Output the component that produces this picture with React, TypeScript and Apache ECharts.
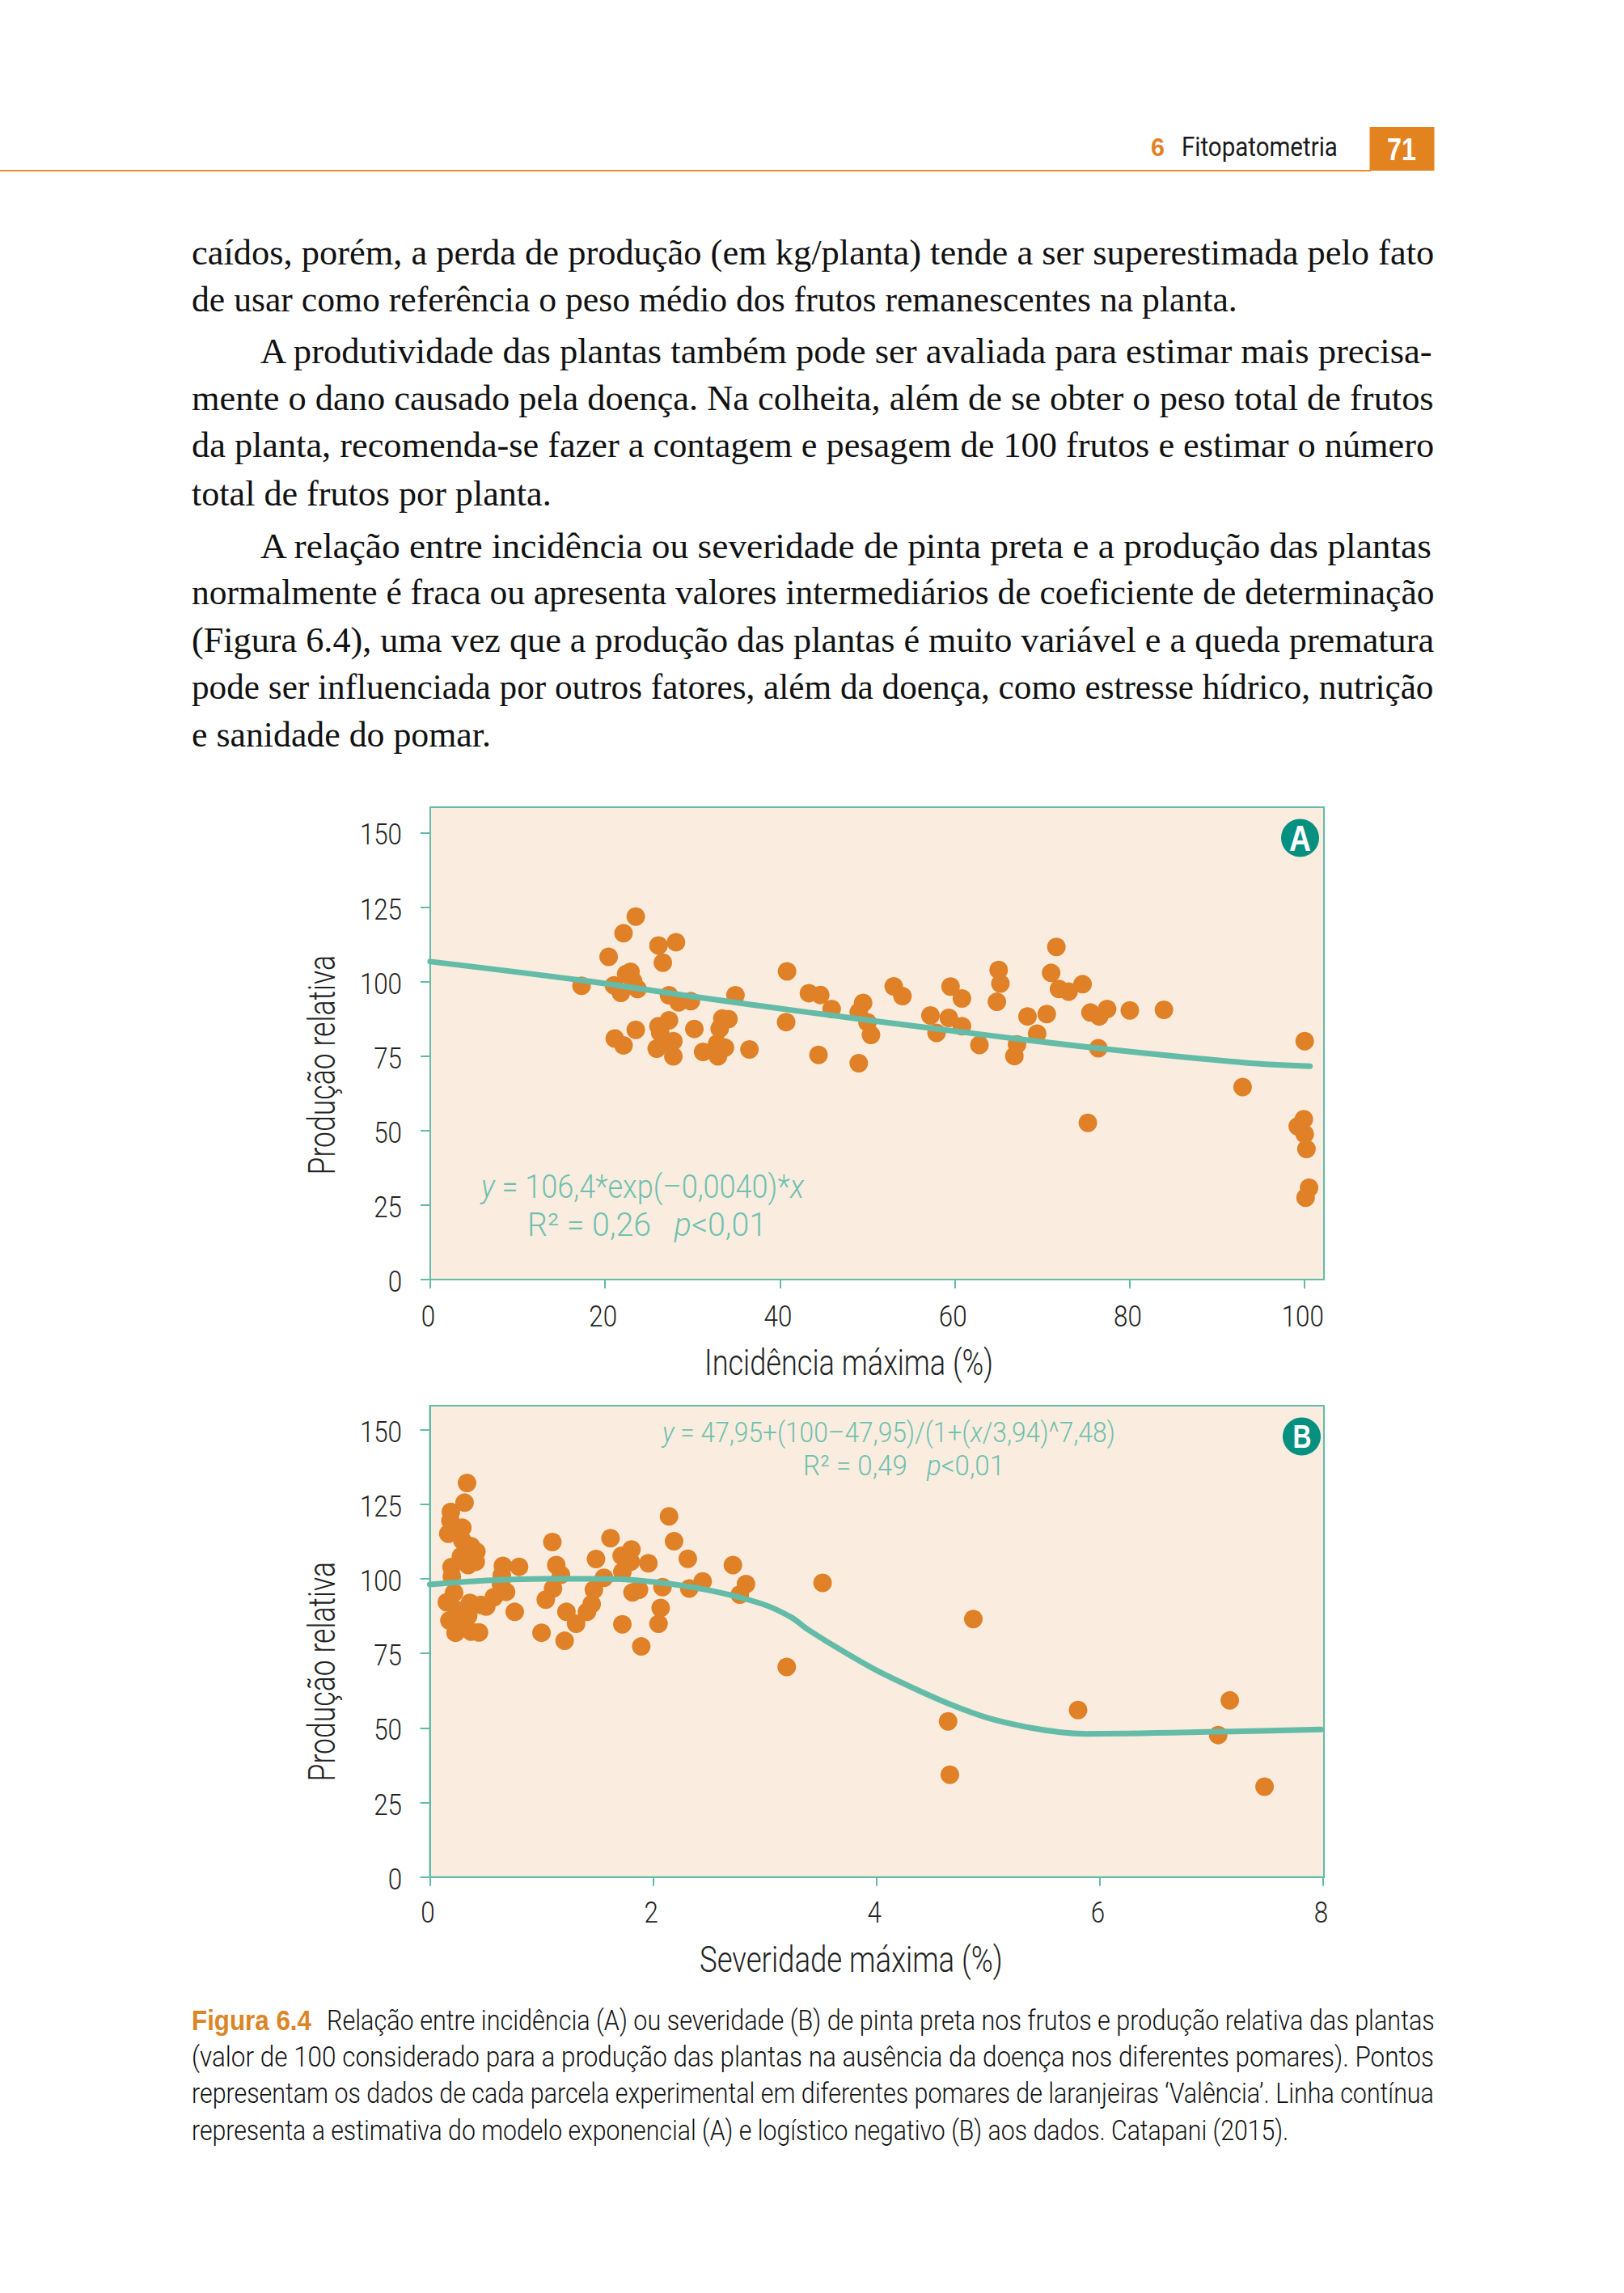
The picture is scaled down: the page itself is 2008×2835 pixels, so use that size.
import React, { useEffect, useRef } from "react";
import * as echarts from "echarts";

const PAGE_W = 2008;
const PAGE_H = 2835;
const SANS = "Roboto, sans-serif";
const SERIF = '"Liberation Serif", serif';
const TEAL = "#63BBA8";
const TEAL_TXT = "#6FC0AF";
const ORANGE = "#E08127";
const INK = "#222222";

const yTicks = [0, 25, 50, 75, 100, 125, 150];
const xTicksA = [0, 20, 40, 60, 80, 100];
const xTicksB = [0, 2, 4, 6, 8];

const pointsA: number[][] = [
  [17.3, 98.6], [20.4, 108.3], [22.1, 116.2], [23.5, 121.8], [21.1, 80.9], [22.1, 78.6], [21.0, 98.7], [21.8, 96.2],
  [22.4, 102.5], [22.9, 103.3], [23.2, 100.1], [23.7, 97.5], [23.5, 83.8], [26.1, 112.1], [28.1, 113.2], [26.6, 106.3],
  [27.3, 95.4], [28.4, 93.0], [29.8, 93.4], [34.9, 95.4], [27.3, 87.0], [26.1, 85.0], [26.3, 82.8], [26.7, 79.7],
  [27.8, 80.0], [25.9, 77.5], [27.8, 74.9], [30.2, 84.1], [31.2, 76.4], [32.8, 79.1], [33.7, 77.8], [32.9, 74.9],
  [33.4, 87.6], [34.1, 87.4], [33.1, 84.2], [36.5, 77.2], [40.8, 103.4], [40.7, 86.4], [43.3, 96.1], [44.6, 95.5],
  [45.9, 90.8], [44.4, 75.4], [49.0, 72.6], [49.0, 89.7], [49.5, 92.8], [50.0, 86.3], [50.4, 82.1], [53.0, 98.4],
  [54.0, 95.1], [57.2, 88.6], [57.9, 82.8], [59.5, 98.3], [59.3, 87.8], [60.8, 94.3], [60.8, 85.0], [62.8, 78.7],
  [65.0, 103.9], [65.2, 99.3], [64.8, 93.2], [67.1, 78.9], [66.8, 75.0], [68.3, 88.3], [69.4, 82.5], [70.5, 89.1],
  [71.0, 102.9], [71.6, 111.6], [71.9, 97.5], [73.0, 96.6], [74.6, 99.1], [75.5, 89.6], [76.5, 88.3], [77.4, 90.8],
  [76.4, 77.6], [75.2, 52.6], [80.0, 90.3], [83.9, 90.5], [92.9, 64.6], [100.0, 80.0], [99.2, 51.4], [99.9, 53.8],
  [100.0, 48.8], [100.2, 43.8], [100.5, 30.8], [100.1, 27.5],
];
const curveA: number[][] = [
  [0, 106.7], [17.3, 100.4], [29.5, 95.2], [43.4, 89.6], [59.9, 83.4], [76.4, 77.6], [93.0, 72.8], [100.6, 71.6],
];

const pointsB: number[][] = [
  [0.333, 132.1], [0.311, 125.5], [0.188, 122.4], [0.184, 119.4], [0.165, 115.1], [0.291, 117.1], [0.214, 116.7], [0.291, 112.8],
  [0.369, 110.9], [0.417, 109.1], [0.411, 105.7], [0.343, 104.6], [0.278, 107.5], [0.327, 108.1], [0.194, 103.9], [0.197, 100.7],
  [0.217, 95.3], [0.152, 92.1], [0.175, 86.0], [0.23, 81.9], [0.246, 89.5], [0.359, 91.9], [0.343, 87.6], [0.278, 87.0],
  [0.262, 84.4], [0.369, 82.3], [0.44, 82.0], [0.456, 91.2], [0.505, 90.7], [0.573, 93.8], [0.654, 104.3], [0.644, 101.1],
  [0.637, 98.2], [0.683, 95.6], [0.799, 104.0], [0.76, 88.9], [1.097, 112.3], [1.132, 104.6], [1.174, 101.3], [1.103, 96.7],
  [1.038, 93.0], [1.0, 81.9], [1.207, 79.2], [1.223, 88.9], [1.31, 84.9], [1.407, 88.9], [1.449, 91.5], [1.469, 96.3],
  [1.488, 106.6], [1.559, 100.3], [1.618, 113.6], [1.718, 107.7], [1.805, 109.8], [1.799, 105.7], [1.724, 102.3], [1.724, 84.7],
  [1.815, 95.4], [1.873, 96.3], [1.893, 77.3], [1.957, 105.2], [2.083, 97.2], [2.067, 90.2], [2.048, 84.9], [2.142, 120.9],
  [2.187, 112.6], [2.31, 106.7], [2.323, 96.7], [2.443, 99.1], [2.714, 104.6], [2.776, 94.7], [2.831, 98.2], [3.196, 70.4],
  [3.517, 98.6], [4.867, 86.5], [4.641, 52.2], [4.657, 34.3], [5.805, 56.0], [7.164, 59.2], [7.06, 47.6], [7.475, 30.3],
];
const curveB: number[][] = [
  [0, 98.1], [0.553, 99.5], [1.04, 100.0], [1.52, 100.0], [2.01, 98.9], [2.49, 96.2], [2.98, 91.5], [3.24, 87.0], [3.385, 83.0],
  [3.709, 75.5], [4.0, 69.3], [4.356, 62.9], [4.68, 57.6], [5.0, 53.3], [5.33, 50.4], [5.65, 48.5], [5.876, 48.0], [7.06, 48.7], [7.98, 49.5],
];

const RIGHT = 1773.5;
const bodyLines = [
  { t: "caídos, porém, a perda de produção (em kg/planta) tende a ser superestimada pelo fato", x: 237, r: RIGHT, b: 327.5 },
  { t: "de usar como referência o peso médio dos frutos remanescentes na planta.", x: 237, r: 1530, b: 385 },
  { t: "A produtividade das plantas também pode ser avaliada para estimar mais precisa-", x: 322, r: RIGHT, b: 450 },
  { t: "mente o dano causado pela doença. Na colheita, além de se obter o peso total de frutos", x: 237, r: RIGHT, b: 508 },
  { t: "da planta, recomenda-se fazer a contagem e pesagem de 100 frutos e estimar o número", x: 237, r: RIGHT, b: 566 },
  { t: "total de frutos por planta.", x: 237, r: 682, b: 625.5 },
  { t: "A relação entre incidência ou severidade de pinta preta e a produção das plantas", x: 322, r: RIGHT, b: 690.5 },
  { t: "normalmente é fraca ou apresenta valores intermediários de coeficiente de determinação", x: 237, r: RIGHT, b: 747.5 },
  { t: "(Figura 6.4), uma vez que a produção das plantas é muito variável e a queda prematura", x: 237, r: RIGHT, b: 807 },
  { t: "pode ser influenciada por outros fatores, além da doença, como estresse hídrico, nutrição", x: 237, r: RIGHT, b: 864.5 },
  { t: "e sanidade do pomar.", x: 237, r: 607, b: 923 },
];
const captionLines = [
  { t: "Relação entre incidência (A) ou severidade (B) de pinta preta nos frutos e produção relativa das plantas", x: 404, r: RIGHT, b: 2510.5 },
  { t: "(valor de 100 considerado para a produção das plantas na ausência da doença nos diferentes pomares). Pontos", x: 237, r: RIGHT, b: 2555 },
  { t: "representam os dados de cada parcela experimental em diferentes pomares de laranjeiras ‘Valência’. Linha contínua", x: 237, r: RIGHT, b: 2601 },
  { t: "representa a estimativa do modelo exponencial (A) e logístico negativo (B) aos dados. Catapani (2015).", x: 237, r: 1594, b: 2646 },
];

type Seg = { t: string; i?: boolean };
const measureCtx = document.createElement("canvas").getContext("2d") as CanvasRenderingContext2D;
function fontOf(fs: number, family: string, weight: string, italic?: boolean) {
  return `${italic ? "italic " : ""}${weight} ${fs}px ${family}`;
}
function widthOf(t: string, fs: number, family: string, weight: string, italic?: boolean) {
  measureCtx.font = fontOf(fs, family, weight, italic);
  return measureCtx.measureText(t).width;
}
function fitLine(segs: Seg[], x: number, right: number, baseline: number, fs: number, family: string, weight: string, fill: string) {
  let cur = 0;
  const children: any[] = segs.map((s) => {
    const w = widthOf(s.t, fs, family, weight, s.i);
    const el = {
      type: "text",
      x: cur,
      y: 0,
      style: {
        text: s.t,
        fontSize: fs,
        fontFamily: family,
        fontWeight: weight,
        fontStyle: s.i ? "italic" : "normal",
        fill,
        align: "left",
        verticalAlign: "middle",
      },
    };
    cur += w;
    return el;
  });
  return { type: "group", x, y: baseline - 0.35 * fs, scaleX: (right - x) / cur, children };
}
function fitVertical(t: string, baselineX: number, bottom: number, top: number, fs: number, fill: string) {
  const w = widthOf(t, fs, SANS, "300");
  return {
    type: "group", x: baselineX - 0.35 * fs, y: bottom, rotation: Math.PI / 2, scaleX: (bottom - top) / w,
    children: [{ type: "text", x: 0, y: 0, style: { text: t, fontSize: fs, fontFamily: SANS, fontWeight: "300", fill, align: "left", verticalAlign: "middle" } }],
  };
}

function buildOption() {
  const axisColor = { lineStyle: { color: TEAL, width: 2 } };
  const makeX = (gridIndex: number, max: number, ticks: number[]) => ({
    type: "value", gridIndex, min: 0, max,
    axisLine: { show: true, onZero: false, ...axisColor },
    axisTick: { show: true, length: 11, customValues: ticks, ...axisColor },
    axisLabel: { show: false },
    splitLine: { show: false },
  });
  const makeY = (gridIndex: number, max: number) => ({
    type: "value", gridIndex, min: 0, max,
    axisLine: { show: true, onZero: false, ...axisColor },
    axisTick: { show: true, length: 12, customValues: yTicks, ...axisColor },
    axisLabel: { show: false },
    splitLine: { show: false },
  });
  const scatter = (i: number, data: number[][]) => ({
    type: "scatter", xAxisIndex: i, yAxisIndex: i, data, symbolSize: 23, z: 3, clip: false,
    itemStyle: { color: ORANGE, opacity: 1 },
  });
  const curve = (i: number, data: number[][], smooth: number) => ({
    type: "line", xAxisIndex: i, yAxisIndex: i, data, showSymbol: false, smooth, z: 4, clip: false,
    lineStyle: { color: TEAL, width: 7, cap: "round", join: "round" },
  });
  return {
    animation: false,
    backgroundColor: "#ffffff",
    grid: [
      { left: 532, top: 998, width: 1105, height: 584, show: true, backgroundColor: "#FAEDDF", borderColor: TEAL, borderWidth: 2 },
      { left: 531.5, top: 1738, width: 1105.5, height: 582.7, show: true, backgroundColor: "#FAEDDF", borderColor: TEAL, borderWidth: 2 },
    ],
    xAxis: [makeX(0, 102.2, xTicksA), makeX(1, 8.007, xTicksB)],
    yAxis: [makeY(0, 158.5), makeY(1, 158)],
    series: [scatter(0, pointsA), curve(0, curveA, 0.4), scatter(1, pointsB), curve(1, curveB, 0.3)],
  };
}

function buildGraphic(chart: any) {
  const graphic: any[] = [
    // page header
    { type: "rect", shape: { x: 0, y: 210, width: 1695, height: 2 }, style: { fill: "#EE8E2C" } },
    { type: "rect", shape: { x: 1693.5, y: 157, width: 80, height: 54 }, style: { fill: "#E38320" } },
    fitLine([{ t: "71" }], 1715, 1751, 198, 38, '"Liberation Sans"', "bold", "#ffffff"),
    fitLine([{ t: "6" }], 1423, 1440, 193, 31, '"Liberation Sans"', "bold", ORANGE),
    fitLine([{ t: "Fitopatometria" }], 1461, 1654, 193, 34, SANS, "400", "#1a1a1a"),
    // caption lead
    fitLine([{ t: "Figura 6.4" }], 237, 385, 2510.5, 35, '"Liberation Sans"', "bold", "#DB8526"),
    // annotations A
    fitLine([{ t: "y", i: true }, { t: " = 106,4*exp(–0,0040)*" }, { t: "x", i: true }], 595, 994, 1481, 40, SANS, "300", TEAL_TXT),
    fitLine([{ t: "R² = 0,26   " }, { t: "p", i: true }, { t: "<0,01" }], 652, 948, 1528, 40, SANS, "300", TEAL_TXT),
    // annotations B
    fitLine([{ t: "y", i: true }, { t: " = 47,95+(100–47,95)/(1+(" }, { t: "x", i: true }, { t: "/3,94)^7,48)" }], 819, 1379, 1783, 35, SANS, "300", TEAL_TXT),
    fitLine([{ t: "R² = 0,49   " }, { t: "p", i: true }, { t: "<0,01" }], 993, 1242, 1824, 35, SANS, "300", TEAL_TXT),
    // badges
    { type: "circle", shape: { cx: 1607.5, cy: 1036, r: 23.5 }, style: { fill: "#059080" } },
    fitLine([{ t: "A" }], 1594, 1621, 1052, 44, '"Liberation Sans"', "bold", "#ffffff"),
    { type: "circle", shape: { cx: 1609.5, cy: 1776, r: 23.5 }, style: { fill: "#059080" } },
    fitLine([{ t: "B" }], 1598.5, 1621.5, 1790, 40, '"Liberation Sans"', "bold", "#ffffff"),
    // axis titles
    fitLine([{ t: "Incidência máxima (%)" }], 871, 1228, 1701, 44, SANS, "300", INK),
    fitLine([{ t: "Severidade máxima (%)" }], 865, 1240, 2438, 44, SANS, "300", INK),
    fitVertical("Produção relativa", 414, 1452.5, 1181, 46, INK),
    fitVertical("Produção relativa", 414, 2202.5, 1931, 46, INK),
  ];
  bodyLines.forEach((l) => graphic.push(fitLine([{ t: l.t }], l.x, l.r, l.b, 44, SERIF, "normal", "#111111")));
  captionLines.forEach((l) => graphic.push(fitLine([{ t: l.t }], l.x, l.r, l.b, 35, SANS, "300", "#111111")));

  // tick labels, placed by the axes' own scales
  const tickScale = 0.87;
  const tickFs = 36;
  const addX = (i: number, ticks: number[], baseOff: number) => {
    const axisY = chart.convertToPixel({ yAxisIndex: i }, 0);
    ticks.forEach((v) => {
      const t = String(v);
      const w = widthOf(t, tickFs, SANS, "300") * tickScale;
      const cx = chart.convertToPixel({ xAxisIndex: i }, v) - 2.5;
      graphic.push(fitLine([{ t }], cx - w / 2, cx + w / 2, axisY + baseOff, tickFs, SANS, "300", INK));
    });
  };
  const addY = (i: number, baseOff: number) => {
    yTicks.forEach((v) => {
      const t = String(v);
      const w = widthOf(t, tickFs, SANS, "300") * tickScale;
      const y = chart.convertToPixel({ yAxisIndex: i }, v);
      graphic.push(fitLine([{ t }], 497 - w, 497, y + baseOff, tickFs, SANS, "300", INK));
    });
  };
  addX(0, xTicksA, 58);
  addX(1, xTicksB, 56.5);
  addY(0, 15.5);
  addY(1, 15.5);
  return graphic;
}

export default function App() {
  const ref = useRef<HTMLDivElement>(null);
  useEffect(() => {
    document.body.style.margin = "0";
    const chart = echarts.init(ref.current as HTMLDivElement, undefined, { renderer: "svg" });
    chart.setOption(buildOption() as any);
    chart.setOption({ graphic: { elements: buildGraphic(chart) } } as any);
    return () => chart.dispose();
  }, []);
  return <div ref={ref} style={{ width: PAGE_W, height: PAGE_H }} />;
}
